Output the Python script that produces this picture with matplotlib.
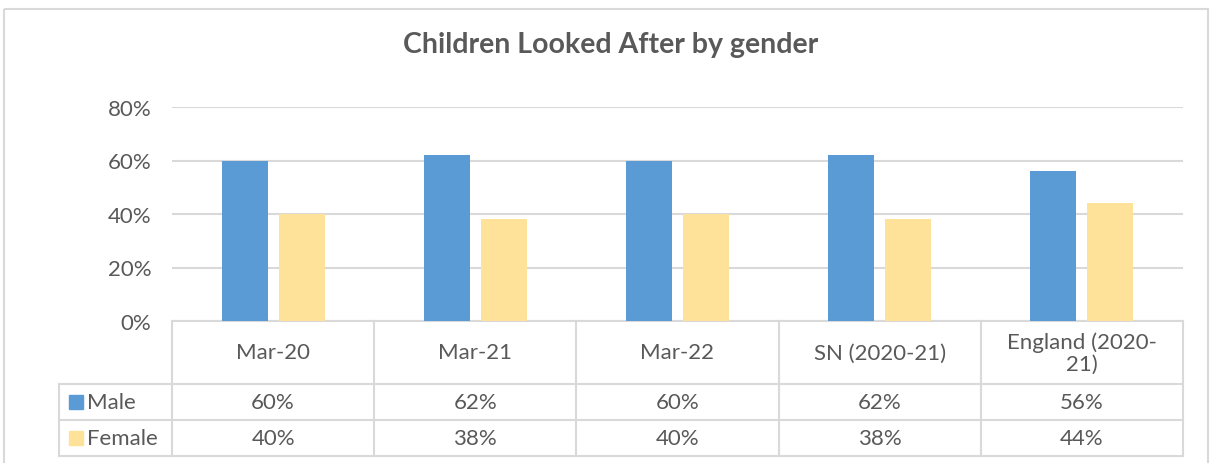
import matplotlib
matplotlib.use("Agg")
import matplotlib.pyplot as plt
import numpy as np
from matplotlib.patches import Rectangle

categories = ["Mar-20", "Mar-21", "Mar-22", "SN (2020-21)", "England (2020-\n21)"]
male = [60, 62, 60, 62, 56]
female = [40, 38, 40, 38, 44]
series_names = ["Male", "Female"]
colors = ["#5B9BD5", "#FFE29A"]
yticks = [0, 20, 40, 60, 80]
title = "Children Looked After by gender"

W, H = 1214, 464
plt.rcParams['font.family'] = ['Lato', 'DejaVu Sans']
txt = "#595959"
grid = "#d9d9d9"
fs = 16

fig = plt.figure(figsize=(W / 100, H / 100), dpi=100)

ov = fig.add_axes([0, 0, 1, 1])
ov.set_xlim(0, W)
ov.set_ylim(H, 0)
ov.axis("off")

px0, px1 = 172, 1183
py0, py80 = 322, 108
ax = fig.add_axes([px0 / W, (H - py0) / H, (px1 - px0) / W, (py0 - py80) / H])
x = np.arange(len(categories)) + 0.5
bw = 0.227
off = 0.141
ax.bar(x - off, male, bw, color=colors[0], zorder=3)
ax.bar(x + off, female, bw, color=colors[1], zorder=3)
ax.set_xlim(0, len(categories))
ax.set_ylim(0, 80)
ax.set_yticks(yticks)
ax.set_yticklabels([f"{t}%" for t in yticks], fontsize=fs, color=txt)
ax.tick_params(axis="y", length=0, pad=15)
ax.set_xticks([])
ax.grid(axis="y", color=grid, linewidth=1.5, zorder=0)
for s in ax.spines.values():
    s.set_visible(False)
ax.set_facecolor("none")

ov.add_patch(Rectangle((4, 10), 1204, 470, fill=False, edgecolor=grid, linewidth=1.5))

hdr_top, hdr_bot = 322, 385
row_h = 36
rows_bot = hdr_bot + row_h * len(series_names)
colw = (px1 - px0) / len(categories)
lx = 59
lw = 1.5
ov.plot([px0, px1], [hdr_top, hdr_top], color=grid, lw=lw)
for i in range(len(series_names) + 1):
    yy = hdr_bot + i * row_h
    ov.plot([lx, px1], [yy, yy], color=grid, lw=lw)
for j in range(len(categories) + 1):
    xx = px0 + j * colw
    ov.plot([xx, xx], [hdr_top, rows_bot], color=grid, lw=lw)
ov.plot([lx, lx], [hdr_bot, rows_bot], color=grid, lw=lw)

for j, c in enumerate(categories):
    ov.text(px0 + (j + 0.5) * colw, (hdr_top + hdr_bot) / 2, c, ha="center", va="center",
            fontsize=fs, color=txt, linespacing=1.1)

for i, (name, vals, col) in enumerate(zip(series_names, [male, female], colors)):
    yc = hdr_bot + (i + 0.5) * row_h
    ov.add_patch(Rectangle((69, yc - 7), 14, 14, color=col))
    ov.text(87, yc, name, ha="left", va="center", fontsize=fs, color=txt)
    for j, v in enumerate(vals):
        ov.text(px0 + (j + 0.5) * colw, yc, f"{v}%", ha="center", va="center",
                fontsize=fs, color=txt)

ov.text(611, 45, title, ha="center", va="center", fontsize=20.5, fontweight="bold", color=txt)

fig.savefig("out.png", dpi=100)
